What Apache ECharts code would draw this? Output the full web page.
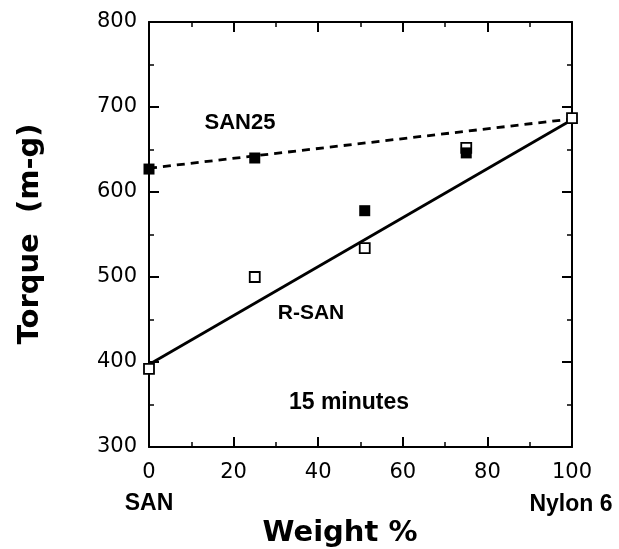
<!DOCTYPE html>
<html><head><meta charset="utf-8">
<script src="https://cdn.jsdelivr.net/npm/echarts@6/dist/echarts.min.js"></script>
<style>html,body{margin:0;padding:0;background:#fff}#c{width:619px;height:549px}</style>
</head><body><div id="c"></div>
<script>
// data
const rsanX = [0, 25, 51, 75, 100];
const rsanTorque = [392, 500, 534, 652, 687];      // open squares (R-SAN)
const san25X = [0, 25, 51, 75];
const san25Torque = [627, 640, 578, 646];          // filled squares (SAN25)
const rsanFitX = [0, 100];
const rsanFitY = [397, 685];
const san25FitX = [0, 100];
const san25FitY = [628, 686];
const xTicks = [0, 20, 40, 60, 80, 100];
const yTicks = [300, 400, 500, 600, 700, 800];

const chart = echarts.init(document.getElementById('c'), null, {renderer: 'canvas'});
const FONT = '"Liberation Sans", Arial, sans-serif';
const DFONT = '"DejaVu Sans", sans-serif';
const pairs = (xs, ys) => xs.map((x, i) => [x, ys[i]]);
const axisCommon = {
  axisLine: {show: true, onZero: false, lineStyle: {color: '#000', width: 2}},
  axisTick: {show: true, inside: true, length: 10, lineStyle: {color: '#000', width: 2}},
  minorTick: {show: true, splitNumber: 2, length: 5, lineStyle: {color: '#000', width: 1.5}},
  splitLine: {show: false}
};
chart.setOption({
  animation: false,
  grid: {left: 149, right: 47, top: 22, bottom: 102, containLabel: false},
  xAxis: [
    Object.assign({type: 'value', position: 'bottom', min: 0, max: 100, interval: 20,
      axisLabel: {color: '#000', fontSize: 21, fontFamily: DFONT, margin: 15}}, axisCommon),
    Object.assign({type: 'value', position: 'top', min: 0, max: 100, interval: 20,
      axisLabel: {show: false}}, axisCommon)
  ],
  yAxis: [
    Object.assign({type: 'value', position: 'left', min: 300, max: 800, interval: 100,
      axisLabel: {color: '#000', fontSize: 21, fontFamily: DFONT, margin: 12}}, axisCommon),
    Object.assign({type: 'value', position: 'right', min: 300, max: 800, interval: 100,
      axisLabel: {show: false}}, axisCommon)
  ],
  graphic: [
    {type: 'text', x: 340, y: 533, style: {text: 'Weight %', font: 'bold 29px ' + DFONT, fill: '#000', textAlign: 'center', textVerticalAlign: 'middle'}},
    {type: 'text', x: 30, y: 234, rotation: Math.PI / 2, style: {text: 'Torque  (m-g)', font: 'bold 29px ' + DFONT, fill: '#000', textAlign: 'center', textVerticalAlign: 'middle'}},
    {type: 'text', x: 149, y: 504, style: {text: 'SAN', font: 'bold 23px ' + FONT, fill: '#000', textAlign: 'center', textVerticalAlign: 'middle'}},
    {type: 'text', x: 571, y: 505, style: {text: 'Nylon 6', font: 'bold 23px ' + FONT, fill: '#000', textAlign: 'center', textVerticalAlign: 'middle'}},
    {type: 'text', x: 240, y: 123, style: {text: 'SAN25', font: 'bold 22px ' + FONT, fill: '#000', textAlign: 'center', textVerticalAlign: 'middle'}},
    {type: 'text', x: 311, y: 313, style: {text: 'R-SAN', font: 'bold 21px ' + FONT, fill: '#000', textAlign: 'center', textVerticalAlign: 'middle'}},
    {type: 'text', x: 349, y: 403, style: {text: '15 minutes', font: 'bold 23px ' + FONT, fill: '#000', textAlign: 'center', textVerticalAlign: 'middle'}}
  ],
  series: [
    {type: 'line', data: pairs(san25FitX, san25FitY), showSymbol: false, symbol: 'none',
      lineStyle: {color: '#000', width: 2.8, type: [8, 6]}, z: 2},
    {type: 'line', data: pairs(rsanFitX, rsanFitY), showSymbol: false, symbol: 'none',
      lineStyle: {color: '#000', width: 2.8}, z: 2},
    {type: 'scatter', data: pairs(rsanX, rsanTorque), symbol: 'rect', symbolSize: 10,
      itemStyle: {color: '#fff', borderColor: '#000', borderWidth: 1.8, opacity: 1}, z: 3},
    {type: 'scatter', data: pairs(san25X, san25Torque), symbol: 'rect', symbolSize: 11,
      itemStyle: {color: '#000', borderColor: '#000', borderWidth: 0, opacity: 1}, z: 4}
  ]
});
</script></body></html>
